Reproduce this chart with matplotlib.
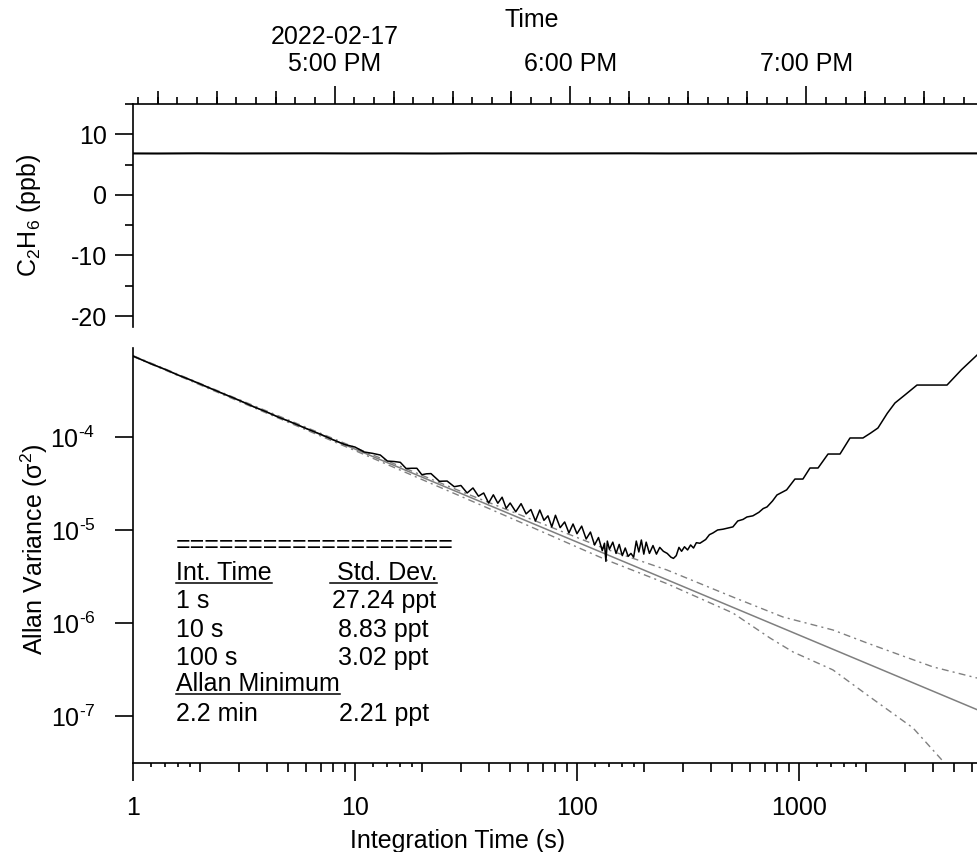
import pandas as pd
import matplotlib
matplotlib.use('Agg')
import matplotlib.pyplot as plt
import matplotlib.dates as mdates
import matplotlib.ticker as mticker
from matplotlib.lines import Line2D

plt.rcParams['font.family'] = ['Liberation Sans', 'DejaVu Sans']
plt.rcParams['mathtext.fontset'] = 'custom'
plt.rcParams['mathtext.rm'] = 'Liberation Sans'
plt.rcParams['mathtext.it'] = 'Liberation Sans:italic'
plt.rcParams['axes.unicode_minus'] = False
plt.rcParams['font.size'] = 18

# ---- data ----
# C2H6 time series (ppb), one reading every 10 min
c2h6_time = pd.date_range('2022-02-17 16:05', '2022-02-17 19:45', freq='10min')
c2h6_ppb = [6.85, 6.83, 6.86, 6.84, 6.85, 6.86, 6.84, 6.85, 6.83, 6.86, 6.85, 6.84,
            6.85, 6.86, 6.84, 6.85, 6.85, 6.84, 6.86, 6.85, 6.84, 6.85, 6.85]
t_start = pd.Timestamp('2022-02-17 16:08:44')
t_end = pd.Timestamp('2022-02-17 19:43:24')

# Allan variance (ppb^2) vs integration time (s)
tau_allan = [1, 1.2, 1.4, 1.6, 1.8, 2, 2.5, 3, 3.5, 4, 4.5, 5, 6, 7, 8, 9, 10,
             11, 12, 13, 14, 15, 16, 17, 18, 19, 20, 21, 22, 24, 26, 28, 30,
             32, 34, 36, 38, 40, 42, 44, 46, 48, 50, 53, 56, 59, 62, 65, 68, 71, 74,
             77, 80, 84, 88, 92, 96, 100, 105, 110, 115, 120, 125, 130, 133, 135, 137,
             140, 145, 150, 155, 160, 165, 170, 175, 180, 185, 190, 195, 200, 205, 212,
             220, 228, 236, 245, 255, 265, 272, 280, 288, 296, 305, 315, 325, 335, 345,
             358, 380, 395, 410, 430, 455, 480, 504, 530, 560, 583, 620, 660, 690, 718,
             760, 796, 880, 959, 1042, 1121, 1219, 1352, 1531, 1698, 1942, 2100, 2269,
             2500, 2706, 3000, 3402, 4645, 5400, 6339]
avar_allan = [7.42e-4, 6.15e-4, 5.32e-4, 4.62e-4, 4.15e-4, 3.73e-4, 2.98e-4, 2.49e-4,
              2.11e-4, 1.86e-4, 1.64e-4, 1.49e-4, 1.24e-4, 1.07e-4, 9.3e-5, 8.3e-5, 7.8e-5,
              6.9e-5, 6.67e-5, 6.4e-5, 5.51e-5, 5.45e-5, 5.34e-5, 4.58e-5, 4.61e-5, 4.61e-5,
              3.93e-5, 4.02e-5, 4.04e-5, 3.34e-5, 3.36e-5, 2.92e-5, 3.01e-5,
              2.5e-5, 2.83e-5, 2.31e-5, 2.5e-5, 1.95e-5, 2.39e-5, 1.94e-5, 2.25e-5, 1.71e-5,
              1.95e-5, 1.57e-5, 1.92e-5, 1.49e-5, 1.66e-5, 1.25e-5, 1.64e-5, 1.27e-5, 1.42e-5,
              1.08e-5, 1.44e-5, 1.06e-5, 1.22e-5, 9.3e-6, 1.16e-5, 9.12e-6, 1.1e-5, 8.0e-6,
              9.5e-6, 6.9e-6, 8.3e-6, 6.0e-6, 7.2e-6, 4.6e-6, 7.6e-6,
              6.2e-6, 7.4e-6, 5.6e-6, 7.0e-6, 5.3e-6, 6.4e-6, 5.2e-6, 5.6e-6, 5.1e-6, 7.6e-6,
              5.8e-6, 7.8e-6, 5.5e-6, 7.4e-6, 5.6e-6, 6.8e-6, 5.5e-6, 6.5e-6, 5.9e-6, 5.6e-6,
              5.1e-6, 4.95e-6, 5.3e-6, 6.5e-6, 5.9e-6, 6.6e-6, 6.1e-6, 6.9e-6, 6.4e-6, 7.3e-6,
              7.2e-6, 7.9e-6, 8.9e-6, 9.3e-6, 1.0e-5, 1.02e-5, 1.05e-5, 1.08e-5, 1.25e-5,
              1.3e-5, 1.38e-5, 1.42e-5, 1.55e-5, 1.7e-5, 1.77e-5, 2.05e-5, 2.38e-5, 2.7e-5,
              3.53e-5, 3.53e-5, 4.64e-5, 4.64e-5, 6.56e-5, 6.56e-5, 9.76e-5, 9.76e-5, 1.1e-4,
              1.25e-4, 1.8e-4, 2.32e-4, 2.83e-4, 3.62e-4, 3.62e-4, 5.3e-4, 7.6e-4]

# white-noise reference line and its confidence bounds
tau_white = [1, 10, 100, 1000, 6339]
avar_white = [7.42e-4, 7.42e-5, 7.42e-6, 7.42e-7, 1.17e-7]
tau_upper = [1, 10, 30, 60, 136, 254, 504, 847, 1422, 2024, 2850, 4016, 6339]
avar_upper = [7.5e-4, 7.7e-5, 2.6e-5, 1.35e-5, 6.2e-6, 3.72e-6, 1.9e-6, 1.16e-6,
              8.41e-7, 6.1e-7, 4.53e-7, 3.37e-7, 2.56e-7]
tau_lower = [1, 10, 30, 60, 136, 254, 504, 740, 940, 1422, 2089, 3265, 4400]
avar_lower = [7.35e-4, 7.15e-5, 2.3e-5, 1.12e-5, 4.75e-6, 2.65e-6, 1.28e-6, 6.9e-7,
              4.88e-7, 3.13e-7, 1.6e-7, 7.43e-8, 3.37e-8]

summary_left = ['1 s', '10 s', '100 s']
summary_right = ['27.24 ppt', '8.83 ppt', '3.02 ppt']
allan_min = ('2.2 min', '2.21 ppt')

# ---- figure ----
W, H = 977, 852
fig = plt.figure(figsize=(W / 100, H / 100), dpi=100)
ax1 = fig.add_axes([133 / W, 1 - 327 / H, 844 / W, 223 / H])
ax2 = fig.add_axes([133 / W, 1 - 763 / H, 844 / W, 415 / H])
lw = 1.2

# top panel: time series
ax1.plot(c2h6_time, c2h6_ppb, color='black', lw=1.5)
ax1.set_xlim(t_start, t_end)
ax1.set_ylim(-21.8, 15)
ax1.spines['right'].set_visible(False)
ax1.spines['bottom'].set_visible(False)
for s in ('left', 'top'):
    ax1.spines[s].set_linewidth(lw)
ax1.xaxis.tick_top()
ax1.xaxis.set_label_position('top')
ax1.xaxis.set_major_locator(mdates.HourLocator())
ax1.xaxis.set_minor_locator(mdates.MinuteLocator(byminute=range(0, 60, 5)))


def time_fmt(x, pos):
    d = mdates.num2date(x)
    s = d.strftime('%I:%M %p').lstrip('0')
    if d.hour == 17:
        s = d.strftime('%Y-%m-%d') + '\n' + s
    return s


ax1.xaxis.set_major_formatter(mticker.FuncFormatter(time_fmt))
ax1.tick_params(axis='x', which='major', direction='out', length=13, width=lw, pad=7)
ax1.tick_params(axis='x', which='minor', direction='out', length=4.7, width=lw)
sec1 = ax1.secondary_xaxis('top')
sec1.xaxis.set_major_locator(mdates.MinuteLocator(byminute=[15, 30, 45]))
sec1.xaxis.set_minor_locator(mticker.NullLocator())
sec1.tick_params(length=9.5, width=lw, labeltop=False)
sec1.spines['top'].set_visible(False)
ax1.set_xlabel('Time')
ax1.xaxis.set_label_coords(0.473, 1.345)

ax1.yaxis.set_major_locator(mticker.MultipleLocator(10))
ax1.yaxis.set_minor_locator(mticker.MultipleLocator(5))
ax1.tick_params(axis='y', which='major', length=13, width=lw, pad=5.8)
ax1.tick_params(axis='y', which='minor', length=5.8, width=lw)
ax1.set_ylabel(r'C$_\mathregular{2}$H$_\mathregular{6}$ (ppb)')
ax1.yaxis.set_label_coords(-0.107, 0.5)

# bottom panel: Allan variance
ax2.plot(tau_white, avar_white, color='#7f7f7f', lw=1.1, zorder=2)
ax2.plot(tau_upper, avar_upper, color='#808080', lw=1.0, dashes=(5, 3, 1.5, 3), zorder=2)
ax2.plot(tau_lower, avar_lower, color='#808080', lw=1.0, dashes=(5, 3, 1.5, 3), zorder=2)
ax2.plot(tau_allan, avar_allan, color='black', lw=1.1, zorder=3)
ax2.set_xscale('log')
ax2.set_yscale('log')
ax2.set_xlim(1, 6339)
ax2.set_ylim(3.12e-8, 9.06e-4)
ax2.spines['right'].set_visible(False)
ax2.spines['top'].set_visible(False)
for s in ('left', 'bottom'):
    ax2.spines[s].set_linewidth(lw)

ax2.xaxis.set_major_locator(mticker.LogLocator(base=10))
ax2.xaxis.set_minor_locator(mticker.LogLocator(base=10, subs=range(2, 10)))
ax2.xaxis.set_major_formatter(mticker.FuncFormatter(lambda v, p: f'{v:g}'))
ax2.xaxis.set_minor_formatter(mticker.NullFormatter())
ax2.tick_params(axis='x', which='major', length=13, width=lw, pad=11)
ax2.tick_params(axis='x', which='minor', length=6.5, width=lw)
sec2 = ax2.secondary_xaxis('bottom')
sec2.xaxis.set_major_locator(mticker.LogLocator(base=10, subs=[1.2, 1.4, 1.6, 1.8]))
sec2.xaxis.set_minor_locator(mticker.NullLocator())
sec2.tick_params(length=2.8, width=lw, labelbottom=False)
sec2.spines['bottom'].set_visible(False)
ax2.set_xlabel('Integration Time (s)')
ax2.xaxis.set_label_coords(0.385, -0.158)


def pow_fmt(v, p):
    n = int(round(__import__('math').log10(v)))
    return r'$\mathdefault{10^{\text{%d}}}$' % n


ax2.yaxis.set_major_locator(mticker.LogLocator(base=10))
ax2.yaxis.set_minor_locator(mticker.NullLocator())
ax2.yaxis.set_major_formatter(mticker.FuncFormatter(pow_fmt))
ax2.tick_params(axis='y', which='major', length=13, width=lw, pad=14)
ax2.set_ylabel('Allan Variance (σ$^\\mathregular{2}$)')
ax2.yaxis.set_label_coords(-0.098, 0.516)

# summary table
xl, xr = 0.051, 0.297
ax2.text(xl, 0.5096, '=' * 19, transform=ax2.transAxes, va='baseline')
t_head1 = ax2.text(xl, 0.4398, 'Int. Time', transform=ax2.transAxes, va='baseline')
t_head2 = ax2.text(xr, 0.4398, ' Std. Dev.', transform=ax2.transAxes, va='baseline', ha='center')
rows_y = [0.3723, 0.3048, 0.2373]
for yy, a, b in zip(rows_y, summary_left, summary_right):
    ax2.text(xl, yy, a, transform=ax2.transAxes, va='baseline')
    ax2.text(xr, yy, b, transform=ax2.transAxes, va='baseline', ha='center')
t_min = ax2.text(xl, 0.1723, 'Allan Minimum', transform=ax2.transAxes, va='baseline')
ax2.text(xl, 0.1024, allan_min[0], transform=ax2.transAxes, va='baseline')
ax2.text(xr, 0.1024, allan_min[1], transform=ax2.transAxes, va='baseline', ha='center')

# underline headers
fig.canvas.draw()
for lab in ax1.get_xticklabels():
    lab.set_linespacing(1.15)
rend = fig.canvas.get_renderer()
inv = fig.transFigure.inverted()
for t in (t_head1, t_head2, t_min):
    bb = t.get_window_extent(rend)
    yb = ax2.transAxes.transform((0, t.get_position()[1]))[1] - 3
    (fx0, fy), (fx1, _) = inv.transform([(bb.x0, yb), (bb.x1, yb)])
    fig.add_artist(Line2D([fx0, fx1], [fy, fy], color='black', lw=1.1))

fig.savefig('out.png', dpi=100)
